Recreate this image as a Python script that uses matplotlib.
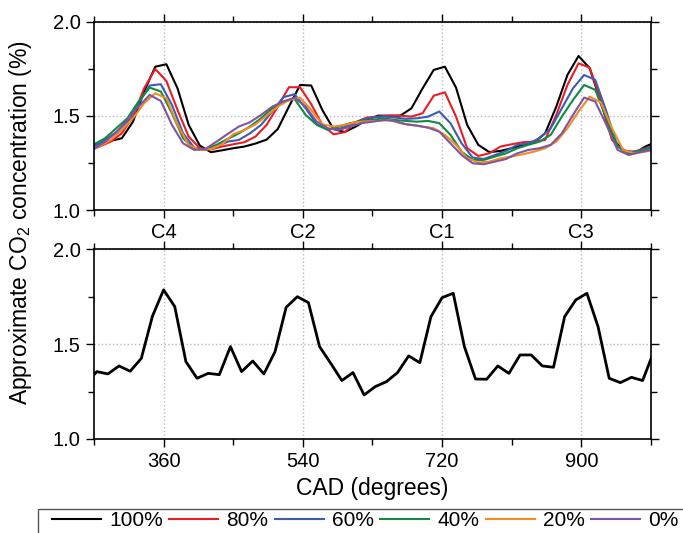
import numpy as np
import matplotlib.pyplot as plt
from matplotlib.patches import Rectangle

plt.rcParams['font.family'] = ['Liberation Sans', 'DejaVu Sans']
plt.rcParams['mathtext.default'] = 'regular'

# crank angle samples (14.4 deg step), two slightly shifted grids in the top panel
cad_a = np.arange(-7, 45) * 14.4 + 363.6   # 100%, 80%, 20%
cad_b = np.arange(-7, 45) * 14.4 + 356.4   # 60%, 40%, 0%
cad_bottom = np.arange(18, 70) * 14.4

co2_100 = [1.33, 1.354, 1.367, 1.381, 1.469, 1.629, 1.761, 1.774, 1.646, 1.452, 1.342, 1.307, 1.317,
           1.328, 1.337, 1.353, 1.374, 1.430, 1.549, 1.664, 1.661, 1.531, 1.430, 1.414, 1.443, 1.480,
           1.501, 1.501, 1.501, 1.540, 1.646, 1.744, 1.761, 1.650, 1.452, 1.346, 1.307, 1.314, 1.328,
           1.346, 1.360, 1.407, 1.549, 1.717, 1.818, 1.753, 1.572, 1.381, 1.319, 1.301, 1.337, 1.363]
co2_80 = [1.32, 1.337, 1.363, 1.407, 1.496, 1.646, 1.749, 1.685, 1.531, 1.390, 1.328, 1.322, 1.337,
          1.349, 1.360, 1.390, 1.452, 1.549, 1.652, 1.652, 1.562, 1.452, 1.402, 1.413, 1.466, 1.491,
          1.496, 1.501, 1.501, 1.496, 1.514, 1.607, 1.625, 1.496, 1.328, 1.287, 1.301, 1.337, 1.349,
          1.360, 1.363, 1.372, 1.505, 1.664, 1.779, 1.756, 1.584, 1.372, 1.314, 1.310, 1.328, 1.349]
co2_60 = [1.32, 1.337, 1.372, 1.413, 1.469, 1.567, 1.661, 1.668, 1.558, 1.407, 1.331, 1.319, 1.337,
          1.363, 1.372, 1.407, 1.452, 1.523, 1.599, 1.615, 1.540, 1.455, 1.430, 1.430, 1.452, 1.478,
          1.491, 1.496, 1.491, 1.484, 1.487, 1.496, 1.523, 1.461, 1.354, 1.278, 1.271, 1.292, 1.314,
          1.346, 1.354, 1.381, 1.434, 1.540, 1.646, 1.717, 1.691, 1.523, 1.337, 1.307, 1.314, 1.337]
co2_40 = [1.33, 1.349, 1.381, 1.434, 1.487, 1.576, 1.650, 1.629, 1.514, 1.381, 1.324, 1.322, 1.346,
          1.377, 1.407, 1.443, 1.487, 1.540, 1.576, 1.590, 1.505, 1.452, 1.425, 1.443, 1.461, 1.473,
          1.478, 1.487, 1.478, 1.473, 1.469, 1.473, 1.461, 1.399, 1.310, 1.266, 1.266, 1.284, 1.301,
          1.328, 1.346, 1.363, 1.399, 1.496, 1.584, 1.664, 1.638, 1.487, 1.337, 1.301, 1.314, 1.328]
co2_20 = [1.31, 1.337, 1.372, 1.425, 1.487, 1.567, 1.620, 1.593, 1.452, 1.346, 1.319, 1.324, 1.349,
          1.402, 1.425, 1.455, 1.501, 1.549, 1.584, 1.597, 1.531, 1.455, 1.443, 1.452, 1.466, 1.471,
          1.473, 1.478, 1.461, 1.452, 1.443, 1.434, 1.399, 1.346, 1.275, 1.253, 1.257, 1.275, 1.284,
          1.296, 1.310, 1.328, 1.363, 1.434, 1.523, 1.602, 1.572, 1.434, 1.319, 1.301, 1.310, 1.324]
co2_0 = [1.31, 1.324, 1.363, 1.413, 1.478, 1.549, 1.611, 1.579, 1.452, 1.354, 1.319, 1.324, 1.363,
         1.404, 1.443, 1.466, 1.505, 1.549, 1.576, 1.597, 1.549, 1.469, 1.434, 1.425, 1.443, 1.461,
         1.469, 1.478, 1.473, 1.455, 1.448, 1.437, 1.416, 1.354, 1.292, 1.248, 1.243, 1.257, 1.271,
         1.301, 1.319, 1.328, 1.346, 1.407, 1.505, 1.597, 1.576, 1.452, 1.319, 1.292, 1.307, 1.319]

co2_bottom = [1.29, 1.355, 1.343, 1.385, 1.357, 1.425, 1.648, 1.786, 1.698, 1.408, 1.320, 1.346, 1.339,
              1.487, 1.355, 1.411, 1.343, 1.460, 1.694, 1.750, 1.719, 1.487, 1.399, 1.308, 1.350, 1.232,
              1.276, 1.302, 1.350, 1.438, 1.402, 1.645, 1.745, 1.768, 1.487, 1.316, 1.315, 1.385, 1.346,
              1.443, 1.443, 1.385, 1.378, 1.645, 1.733, 1.768, 1.592, 1.320, 1.297, 1.325, 1.308, 1.46]

labels = ['100%', '80%', '60%', '40%', '20%', '0%']
colors = ['black', '#ec1c24', '#3c5cb4', '#0e8a44', '#f58a1f', '#7d55a4']
top_series = [co2_100, co2_80, co2_60, co2_40, co2_20, co2_0]
top_x = [cad_a, cad_a, cad_b, cad_b, cad_a, cad_b]

major_x = [360, 540, 720, 900]
minor_x = [270, 450, 630, 810, 990]
cyl_labels = ['C4', 'C2', 'C1', 'C3']

fig = plt.figure(figsize=(6.83, 5.33), dpi=100)
ax1 = fig.add_axes([0.1376, 0.606, 0.8155, 0.3533])
ax2 = fig.add_axes([0.1376, 0.1764, 0.8155, 0.3559])


def style_axis(ax):
    ax.set_xlim(270, 990)
    ax.set_ylim(1.0, 2.0)
    ax.set_xticks(major_x)
    ax.set_xticks(minor_x, minor=True)
    ax.set_yticks([1.0, 1.5, 2.0])
    ax.set_yticks([1.25, 1.75], minor=True)
    ax.set_yticklabels(['1.0', '1.5', '2.0'])
    ax.tick_params(which='both', direction='out', top=True, right=True, labelsize=14.5, width=1.0)
    ax.tick_params(which='major', length=6)
    ax.tick_params(which='minor', length=4)
    ax.grid(True, which='major', linestyle=':', color='#bbbbbb', linewidth=1.0)
    for s in ax.spines.values():
        s.set_linewidth(1.2)


style_axis(ax1)
style_axis(ax2)
ax1.set_xticklabels(cyl_labels)
ax2.set_xticklabels([str(v) for v in major_x])

handles = []
for x, y, c, lab in zip(top_x, top_series, colors, labels):
    h, = ax1.plot(x, y, color=c, linewidth=1.5, label=lab)
    handles.append(h)

ax2.plot(cad_bottom, co2_bottom, color='black', linewidth=2.0)
ax2.set_xlabel('CAD (degrees)', fontsize=16.5, labelpad=4)

fig.text(0.03, 0.583, 'Approximate CO$_2$ concentration (%)', rotation=90,
         fontsize=16.5, ha='center', va='center')

# legend strip at the bottom (box runs off the figure edge)
fig.patches.append(Rectangle((38 / 683, -0.05), 0.99, 1 - 509 / 533 + 0.05,
                             transform=fig.transFigure, fill=False,
                             edgecolor='#555555', linewidth=1.0))
fig.legend(handles=handles, labels=labels, loc='center left',
           bbox_to_anchor=(52 / 683, 1 - 521 / 533), ncol=6, frameon=False,
           fontsize=15, handlelength=2.35, handletextpad=0.4, columnspacing=0.3,
           borderpad=0.0, borderaxespad=0.0)

fig.savefig('out.png', dpi=100)
